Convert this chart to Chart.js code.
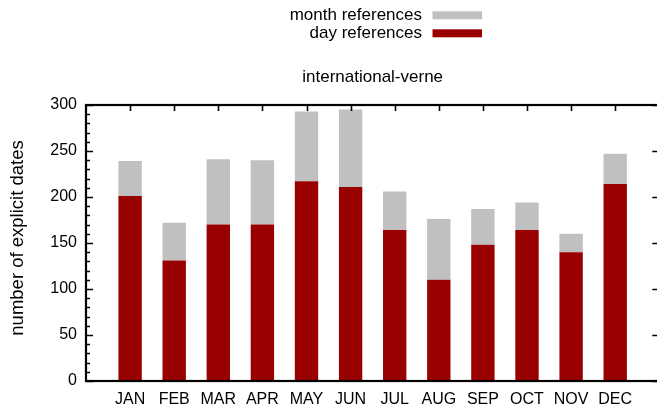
<!DOCTYPE html>
<html>
<head>
<meta charset="utf-8">
<title>international-verne</title>
<script src="https://cdn.jsdelivr.net/npm/chart.js@4/dist/chart.umd.min.js"></script>
<style>
  html, body { margin: 0; padding: 0; background: #ffffff; overflow: hidden; }
  #wrap { width: 657px; height: 406px; overflow: hidden; position: relative; }
  #box { position: absolute; left: 0; top: 0; width: 662px; height: 406px; }
</style>
</head>
<body>
<div id="wrap"><div id="box"><canvas id="c"></canvas></div></div>
<script>
// Monthly counts of explicit date references
const MONTHS = ['JAN', 'FEB', 'MAR', 'APR', 'MAY', 'JUN', 'JUL', 'AUG', 'SEP', 'OCT', 'NOV', 'DEC'];
const DAY_REFS   = [201, 131, 170, 170, 217, 211, 164, 110, 148, 164, 140, 214];
const MONTH_REFS = [38, 41, 71, 70, 76, 84, 42, 66, 39, 30, 20, 33];
const Y_TICKS = [0, 50, 100, 150, 200, 250, 300];
const CHART_TITLE = 'international-verne';
const Y_TITLE = 'number of explicit dates';

const FONT = 'Liberation Sans, Arial, Helvetica, sans-serif';
const RED = '#990000';
const GREY = '#c0c0c0';

// frame, tick marks, titles and key drawn in gnuplot style
const gnuplotDecor = {
  id: 'gnuplotDecor',
  afterDatasetsDraw(chart) {
    const { ctx, chartArea: a, scales } = chart;
    const x = scales.x, y = scales.y;
    ctx.save();
    ctx.strokeStyle = '#000';
    ctx.lineWidth = 1.6;
    ctx.beginPath();
    // y ticks: major every 50, minor every 10 on the left; major only on the right
    for (let v = 0; v <= 300; v += 10) {
      const py = Math.round(y.getPixelForValue(v)) + 0.5;
      const major = v % 50 === 0;
      ctx.moveTo(a.left, py);
      ctx.lineTo(a.left + (major ? 7 : 4), py);
      if (major) {
        ctx.moveTo(a.right, py);
        ctx.lineTo(a.right - 7, py);
      }
    }
    // category ticks mirrored on the top border
    MONTHS.forEach((m, i) => {
      const px = Math.round(x.getPixelForValue(i)) + 0.5;
      ctx.moveTo(px, a.top);
      ctx.lineTo(px, a.top + 6);
    });
    ctx.stroke();
    // border
    ctx.lineWidth = 2.2;
    ctx.strokeRect(a.left, a.top, a.right - a.left, a.bottom - a.top);

    // chart title
    ctx.fillStyle = '#000';
    ctx.font = '17px ' + FONT;
    ctx.textAlign = 'center';
    ctx.textBaseline = 'middle';
    ctx.fillText(CHART_TITLE, (a.left + a.right) / 2, 77);

    // y axis title
    ctx.save();
    ctx.translate(17.5, 238);
    ctx.rotate(-Math.PI / 2);
    ctx.font = '18.5px ' + FONT;
    ctx.fillText(Y_TITLE, 0, 0);
    ctx.restore();

    // key: text right-aligned, colour swatch to the right
    const ds = chart.data.datasets.slice().reverse();
    ds.forEach((d, i) => {
      const cy = 15.3 + i * 18;
      ctx.textAlign = 'right';
      ctx.fillStyle = '#000';
      ctx.fillText(d.label, 422, cy);
      ctx.fillStyle = d.backgroundColor;
      ctx.fillRect(432.5, cy - 4, 49.5, 8);
    });
    ctx.restore();
  }
};

new Chart(document.getElementById('c'), {
  type: 'bar',
  data: {
    datasets: [
      {
        label: 'day references',
        data: DAY_REFS.map((v, i) => ({ x: i, y: v })),
        backgroundColor: RED,
        borderWidth: 0
      },
      {
        label: 'month references',
        data: MONTH_REFS.map((v, i) => ({ x: i, y: v })),
        backgroundColor: GREY,
        borderWidth: 0
      }
    ]
  },
  options: {
    responsive: true,
    maintainAspectRatio: false,
    animation: false,
    devicePixelRatio: 1,
    layout: { padding: { left: 0, right: 2.7, top: 105, bottom: 0 } },
    datasets: { bar: { categoryPercentage: 1.0, barPercentage: 0.53 } },
    plugins: {
      legend: { display: false },
      title: { display: false },
      tooltip: { enabled: false }
    },
    scales: {
      x: {
        type: 'linear',
        stacked: true,
        offset: false,
        min: -1,
        max: 12,
        grid: { display: false, offset: false },
        border: { display: false },
        afterBuildTicks(scale) {
          scale.ticks = MONTHS.map((m, i) => ({ value: i }));
        },
        afterFit(scale) { scale.height = 25; },
        ticks: {
          autoSkip: false,
          maxRotation: 0,
          padding: 1,
          color: '#000',
          font: { family: FONT, size: 16 },
          callback: (v) => MONTHS[v] ?? ''
        }
      },
      y: {
        stacked: true,
        min: 0,
        max: 300,
        grid: { display: false },
        border: { display: false },
        afterBuildTicks(scale) {
          scale.ticks = Y_TICKS.map(v => ({ value: v }));
        },
        afterFit(scale) { scale.width = 86; },
        ticks: {
          padding: 1,
          color: '#000',
          font: { family: FONT, size: 16 }
        }
      }
    }
  },
  plugins: [gnuplotDecor]
});
</script>
</body>
</html>
